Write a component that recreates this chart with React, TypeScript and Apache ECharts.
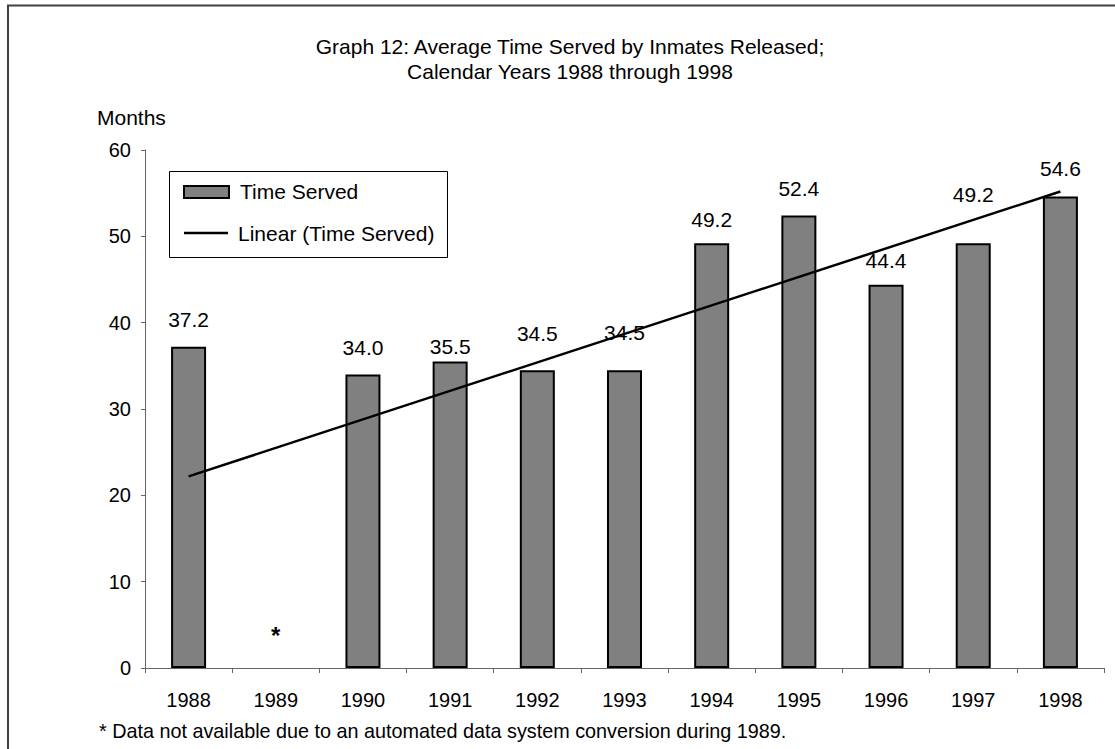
import React, { useEffect, useRef } from "react";
import * as echarts from "echarts";

const categories = ["1988", "1989", "1990", "1991", "1992", "1993", "1994", "1995", "1996", "1997", "1998"];
const timeServed: (number | null)[] = [37.2, null, 34.0, 35.5, 34.5, 34.5, 49.2, 52.4, 44.4, 49.2, 54.6];
// Linear trendline ("Linear (Time Served)") values at 1988 and 1998
const trendCategories = ["1988", "1998"];
const trendValues = [22.2, 55.2];
const yMin = 0;
const yMax = 60;
const yInterval = 10;
const legendNames = ["Time Served", "Linear (Time Served)"];

// style: gap in px from bar top to label centre, as placed in the original
const labelGaps = [27, 33, 27, 15, 37, 38, 24, 27, 24, 49, 28];

const FONT = "'Liberation Sans', Arial, sans-serif";

export default function App() {
  const ref = useRef<HTMLDivElement>(null);

  useEffect(() => {
    if (!ref.current) return;
    const chart = echarts.init(ref.current, null, { renderer: "svg" });

    const barData = timeServed.map((v, i) => {
      if (v === null) {
        return {
          value: 0,
          itemStyle: { color: "rgba(0,0,0,0)", borderColor: "rgba(0,0,0,0)", borderWidth: 0 },
          label: {
            show: true,
            formatter: "*",
            fontSize: 24,
            fontWeight: "bold",
            color: "#000",
            distance: labelGaps[i] - 12,
          },
        };
      }
      return {
        value: v,
        label: { distance: labelGaps[i] - 10.5 },
      };
    });

    chart.setOption({
      animation: false,
      backgroundColor: "#ffffff",
      textStyle: { fontFamily: FONT, color: "#000" },
      title: {
        text: "Graph 12: Average Time Served by Inmates Released;\nCalendar Years 1988 through 1998",
        left: 570,
        top: 34,
        textAlign: "center",
        padding: 0,
        textStyle: {
          fontFamily: FONT,
          fontSize: 21,
          fontWeight: "normal",
          lineHeight: 25,
          color: "#000",
        },
      },
      legend: { show: false },
      grid: { left: 145, right: 11, top: 150, bottom: 81, containLabel: false },
      xAxis: {
        type: "category",
        data: categories,
        boundaryGap: true,
        axisLine: { show: true, lineStyle: { color: "#666", width: 1 } },
        axisTick: { show: true, interval: 0, length: 5, lineStyle: { color: "#666" } },
        axisLabel: { fontFamily: FONT, fontSize: 20, color: "#000", margin: 22, interval: 0 },
        splitLine: { show: false },
      },
      yAxis: {
        type: "value",
        min: yMin,
        max: yMax,
        interval: yInterval,
        axisLine: { show: true, lineStyle: { color: "#666", width: 1 } },
        axisTick: { show: true, length: 4, lineStyle: { color: "#666" } },
        axisLabel: { fontFamily: FONT, fontSize: 20, color: "#000", margin: 14 },
        splitLine: { show: false },
      },
      series: [
        {
          name: legendNames[0],
          type: "bar",
          data: barData,
          barWidth: 35,
          itemStyle: { color: "#808080", borderColor: "#000", borderWidth: 2 },
          label: {
            show: true,
            position: "top",
            fontFamily: FONT,
            fontSize: 21,
            color: "#000",
            formatter: (p: any) => (timeServed[p.dataIndex] === null ? "*" : Number(p.value).toFixed(1)),
          },
          z: 2,
        },
        {
          name: legendNames[1],
          type: "line",
          data: trendCategories.map((c, i) => [c, trendValues[i]]),
          symbol: "none",
          lineStyle: { color: "#000", width: 2.5 },
          itemStyle: { color: "#000" },
          z: 3,
        },
      ],
      graphic: [
        {
          type: "rect",
          shape: { x: 8, y: 5.5, width: 1300, height: 1000 },
          style: { fill: "none", stroke: "#404040", lineWidth: 2 },
          silent: true,
          z: 100,
        },
        {
          type: "group",
          z: 50,
          children: [
            {
              type: "rect",
              shape: { x: 169.5, y: 171.5, width: 278, height: 86 },
              style: { fill: "#fff", stroke: "#000", lineWidth: 1 },
            },
            {
              type: "rect",
              shape: { x: 184, y: 186, width: 45, height: 12 },
              style: { fill: "#808080", stroke: "#000", lineWidth: 2 },
            },
            {
              type: "text",
              style: {
                text: legendNames[0],
                x: 240,
                y: 191,
                verticalAlign: "middle",
                fontFamily: FONT,
                fontSize: 21,
                fill: "#000",
              },
            },
            {
              type: "line",
              shape: { x1: 184, y1: 233, x2: 228, y2: 233 },
              style: { stroke: "#000", lineWidth: 2.5 },
            },
            {
              type: "text",
              style: {
                text: legendNames[1],
                x: 238,
                y: 233,
                verticalAlign: "middle",
                fontFamily: FONT,
                fontSize: 21,
                fill: "#000",
              },
            },
          ],
        },
        {
          type: "text",
          style: {
            text: "Months",
            x: 97,
            y: 117,
            verticalAlign: "middle",
            fontFamily: FONT,
            fontSize: 21,
            fill: "#000",
          },
        },
        {
          type: "text",
          style: {
            text: "* Data not available due to an automated data system conversion during 1989.",
            x: 99,
            y: 731,
            verticalAlign: "middle",
            fontFamily: FONT,
            fontSize: 19.8,
            fill: "#000",
          },
        },
      ],
    });

    return () => {
      chart.dispose();
    };
  }, []);

  return (
    <div
      ref={ref}
      style={{ position: "fixed", left: 0, top: 0, width: 1115, height: 749 }}
    />
  );
}
